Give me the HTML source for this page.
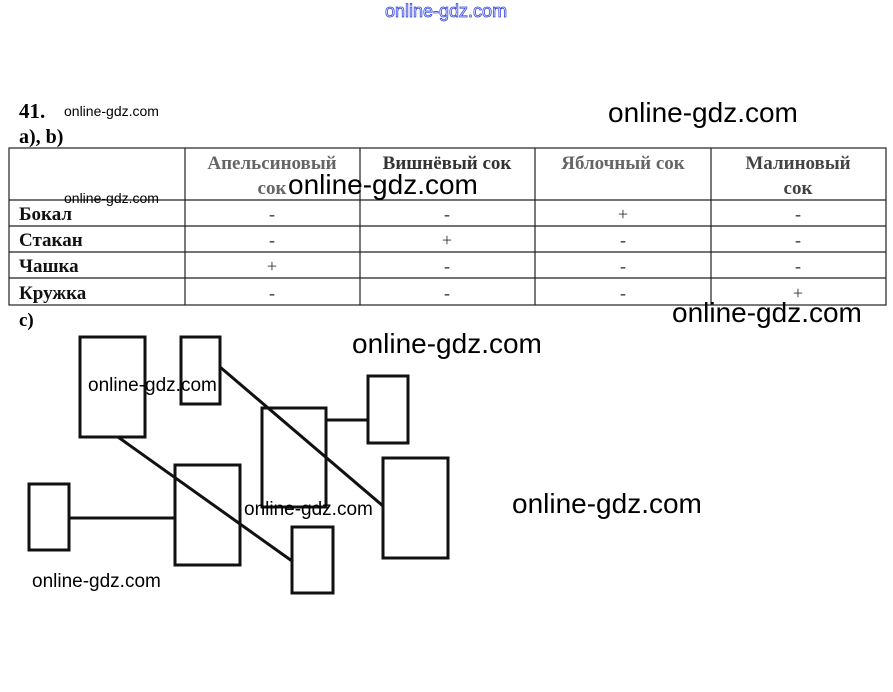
<!DOCTYPE html>
<html><head><meta charset="utf-8"><style>
body{margin:0;background:#fff;}
svg{display:block}
.s{font-family:"Liberation Serif",serif;font-weight:bold;}
.w{font-family:"Liberation Sans",sans-serif;fill:#000;}
</style></head><body>
<svg width="893" height="692" viewBox="0 0 893 692" xmlns="http://www.w3.org/2000/svg">
<rect width="893" height="692" fill="#fff"/>
<text x="385" y="17" font-family="Liberation Sans,sans-serif" font-size="18" fill="#fff" stroke="#3344dd" stroke-width="0.8">online-gdz.com</text>
<text class="s" x="19" y="118" font-size="21">41.</text>
<text class="s" x="19" y="143" font-size="20">a), b)</text>
<g stroke="#222" stroke-width="1.2" fill="none">
<rect x="9" y="148" width="877" height="157"/>
<line x1="9" y1="200" x2="886" y2="200"/>
<line x1="9" y1="226" x2="886" y2="226"/>
<line x1="9" y1="252" x2="886" y2="252"/>
<line x1="9" y1="278" x2="886" y2="278"/>
<line x1="185" y1="148" x2="185" y2="305"/>
<line x1="360" y1="148" x2="360" y2="305"/>
<line x1="535" y1="148" x2="535" y2="305"/>
<line x1="711" y1="148" x2="711" y2="305"/>
</g>
<g class="s" font-size="19" fill="#666" text-anchor="middle">
<text x="272" y="169">Апельсиновый</text><text x="272" y="194">сок</text>
<text x="447" y="169" fill="#333">Вишнёвый сок</text>
<text x="623" y="169">Яблочный сок</text>
<text x="798" y="169" fill="#444">Малиновый</text><text x="798" y="194" fill="#444">сок</text>
</g>
<g class="s" font-size="19" fill="#111">
<text x="19" y="220">Бокал</text><text x="19" y="246">Стакан</text>
<text x="19" y="272">Чашка</text><text x="19" y="299">Кружка</text>
</g>
<g font-family="Liberation Serif,serif" font-size="18" fill="#333" text-anchor="middle">
<text x="272" y="220">-</text><text x="447" y="220">-</text><text x="623" y="220">+</text><text x="798" y="220">-</text>
<text x="272" y="246">-</text><text x="447" y="246">+</text><text x="623" y="246">-</text><text x="798" y="246">-</text>
<text x="272" y="272">+</text><text x="447" y="272">-</text><text x="623" y="272">-</text><text x="798" y="272">-</text>
<text x="272" y="299">-</text><text x="447" y="299">-</text><text x="623" y="299">-</text><text x="798" y="299">+</text>
</g>
<text class="s" x="19" y="326" font-size="19">c)</text>
<g stroke="#111" stroke-width="3" fill="none">
<rect x="80" y="337" width="65" height="100"/>
<rect x="181" y="337" width="39" height="67"/>
<rect x="262" y="408" width="64" height="99"/>
<rect x="368" y="376" width="40" height="67"/>
<rect x="383" y="458" width="65" height="100"/>
<rect x="29" y="484" width="40" height="66"/>
<rect x="175" y="465" width="65" height="100"/>
<rect x="292" y="527" width="41" height="66"/>
<line x1="326" y1="420" x2="368" y2="420"/>
<line x1="69" y1="518" x2="175" y2="518"/>
<line x1="118" y1="437" x2="292" y2="561"/>
<line x1="220" y1="367" x2="383" y2="506"/>
</g>
<text class="w" x="64" y="116" font-size="14">online-gdz.com</text>
<text class="w" x="608" y="122" font-size="28">online-gdz.com</text>
<text class="w" x="288" y="194" font-size="28">online-gdz.com</text>
<text class="w" x="64" y="203" font-size="14">online-gdz.com</text>
<text class="w" x="672" y="322" font-size="28">online-gdz.com</text>
<text class="w" x="352" y="353" font-size="28">online-gdz.com</text>
<text class="w" x="88" y="391" font-size="19">online-gdz.com</text>
<text class="w" x="512" y="513" font-size="28">online-gdz.com</text>
<text class="w" x="244" y="515" font-size="19">online-gdz.com</text>
<text class="w" x="32" y="587" font-size="19">online-gdz.com</text>
</svg>
</body></html>
